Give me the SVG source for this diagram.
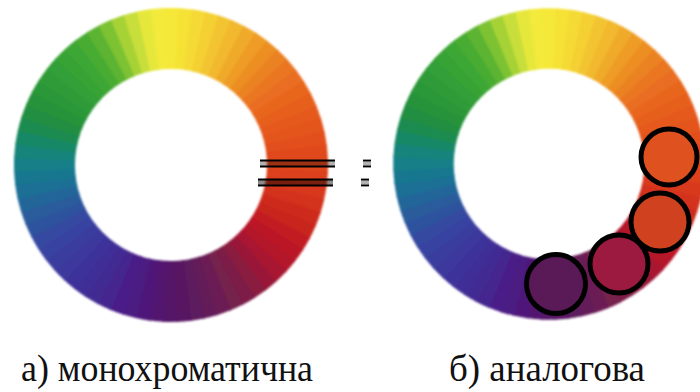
<svg xmlns="http://www.w3.org/2000/svg" xmlns:xlink="http://www.w3.org/1999/xlink" width="700" height="392" viewBox="0 0 700 392">
<style>
.seg{fill:none;stroke-width:61;stroke-dasharray:5.8 354.2}
.lbl{font-family:"Liberation Serif","Times New Roman",serif;font-size:37px;fill:#111}
.pick{stroke:#000;stroke-width:5}
.bar{fill:#000;fill-opacity:0.3}
.ln{stroke:#000;stroke-width:1.8}
</style>
<defs>
<filter id="soft" filterUnits="userSpaceOnUse" x="0" y="0" width="700" height="392"><feGaussianBlur stdDeviation="1.1"/></filter>
<g id="wheel">
<circle class="seg" r="126.5" pathLength="360" stroke="#e0461f" stroke-dashoffset="2.5"/>
<circle class="seg" r="126.5" pathLength="360" stroke="#dc3f1f" stroke-dashoffset="-2.5"/>
<circle class="seg" r="126.5" pathLength="360" stroke="#d8391f" stroke-dashoffset="-7.5"/>
<circle class="seg" r="126.5" pathLength="360" stroke="#d3321f" stroke-dashoffset="-12.5"/>
<circle class="seg" r="126.5" pathLength="360" stroke="#ce2c1f" stroke-dashoffset="-17.5"/>
<circle class="seg" r="126.5" pathLength="360" stroke="#c8261f" stroke-dashoffset="-22.5"/>
<circle class="seg" r="126.5" pathLength="360" stroke="#c21e22" stroke-dashoffset="-27.5"/>
<circle class="seg" r="126.5" pathLength="360" stroke="#bb1926" stroke-dashoffset="-32.5"/>
<circle class="seg" r="126.5" pathLength="360" stroke="#b4152a" stroke-dashoffset="-37.5"/>
<circle class="seg" r="126.5" pathLength="360" stroke="#a81530" stroke-dashoffset="-42.5"/>
<circle class="seg" r="126.5" pathLength="360" stroke="#9a1838" stroke-dashoffset="-47.5"/>
<circle class="seg" r="126.5" pathLength="360" stroke="#8a1c40" stroke-dashoffset="-52.5"/>
<circle class="seg" r="126.5" pathLength="360" stroke="#7c1f47" stroke-dashoffset="-57.5"/>
<circle class="seg" r="126.5" pathLength="360" stroke="#74204e" stroke-dashoffset="-62.5"/>
<circle class="seg" r="126.5" pathLength="360" stroke="#6c1e54" stroke-dashoffset="-67.5"/>
<circle class="seg" r="126.5" pathLength="360" stroke="#641c59" stroke-dashoffset="-72.5"/>
<circle class="seg" r="126.5" pathLength="360" stroke="#5c1a5d" stroke-dashoffset="-77.5"/>
<circle class="seg" r="126.5" pathLength="360" stroke="#581762" stroke-dashoffset="-82.5"/>
<circle class="seg" r="126.5" pathLength="360" stroke="#551567" stroke-dashoffset="-87.5"/>
<circle class="seg" r="126.5" pathLength="360" stroke="#521770" stroke-dashoffset="-92.5"/>
<circle class="seg" r="126.5" pathLength="360" stroke="#4f1979" stroke-dashoffset="-97.5"/>
<circle class="seg" r="126.5" pathLength="360" stroke="#4c1c81" stroke-dashoffset="-102.5"/>
<circle class="seg" r="126.5" pathLength="360" stroke="#481f88" stroke-dashoffset="-107.5"/>
<circle class="seg" r="126.5" pathLength="360" stroke="#45258e" stroke-dashoffset="-112.5"/>
<circle class="seg" r="126.5" pathLength="360" stroke="#422a93" stroke-dashoffset="-117.5"/>
<circle class="seg" r="126.5" pathLength="360" stroke="#402f97" stroke-dashoffset="-122.5"/>
<circle class="seg" r="126.5" pathLength="360" stroke="#3e339a" stroke-dashoffset="-127.5"/>
<circle class="seg" r="126.5" pathLength="360" stroke="#3c389c" stroke-dashoffset="-132.5"/>
<circle class="seg" r="126.5" pathLength="360" stroke="#3a3e9e" stroke-dashoffset="-137.5"/>
<circle class="seg" r="126.5" pathLength="360" stroke="#3943a0" stroke-dashoffset="-142.5"/>
<circle class="seg" r="126.5" pathLength="360" stroke="#3548a0" stroke-dashoffset="-147.5"/>
<circle class="seg" r="126.5" pathLength="360" stroke="#2f529e" stroke-dashoffset="-152.5"/>
<circle class="seg" r="126.5" pathLength="360" stroke="#295c9c" stroke-dashoffset="-157.5"/>
<circle class="seg" r="126.5" pathLength="360" stroke="#226699" stroke-dashoffset="-162.5"/>
<circle class="seg" r="126.5" pathLength="360" stroke="#1a6f95" stroke-dashoffset="-167.5"/>
<circle class="seg" r="126.5" pathLength="360" stroke="#17778f" stroke-dashoffset="-172.5"/>
<circle class="seg" r="126.5" pathLength="360" stroke="#147f88" stroke-dashoffset="-177.5"/>
<circle class="seg" r="126.5" pathLength="360" stroke="#16847a" stroke-dashoffset="-182.5"/>
<circle class="seg" r="126.5" pathLength="360" stroke="#198866" stroke-dashoffset="-187.5"/>
<circle class="seg" r="126.5" pathLength="360" stroke="#1e8b50" stroke-dashoffset="-192.5"/>
<circle class="seg" r="126.5" pathLength="360" stroke="#228e42" stroke-dashoffset="-197.5"/>
<circle class="seg" r="126.5" pathLength="360" stroke="#27933b" stroke-dashoffset="-202.5"/>
<circle class="seg" r="126.5" pathLength="360" stroke="#2b9739" stroke-dashoffset="-207.5"/>
<circle class="seg" r="126.5" pathLength="360" stroke="#2e9b38" stroke-dashoffset="-212.5"/>
<circle class="seg" r="126.5" pathLength="360" stroke="#319f37" stroke-dashoffset="-217.5"/>
<circle class="seg" r="126.5" pathLength="360" stroke="#37a336" stroke-dashoffset="-222.5"/>
<circle class="seg" r="126.5" pathLength="360" stroke="#3ea735" stroke-dashoffset="-227.5"/>
<circle class="seg" r="126.5" pathLength="360" stroke="#4aac33" stroke-dashoffset="-232.5"/>
<circle class="seg" r="126.5" pathLength="360" stroke="#5cb431" stroke-dashoffset="-237.5"/>
<circle class="seg" r="126.5" pathLength="360" stroke="#7cc233" stroke-dashoffset="-242.5"/>
<circle class="seg" r="126.5" pathLength="360" stroke="#a6d236" stroke-dashoffset="-247.5"/>
<circle class="seg" r="126.5" pathLength="360" stroke="#c8de3a" stroke-dashoffset="-252.5"/>
<circle class="seg" r="126.5" pathLength="360" stroke="#e6e73a" stroke-dashoffset="-257.5"/>
<circle class="seg" r="126.5" pathLength="360" stroke="#f3ea3a" stroke-dashoffset="-262.5"/>
<circle class="seg" r="126.5" pathLength="360" stroke="#f6e838" stroke-dashoffset="-267.5"/>
<circle class="seg" r="126.5" pathLength="360" stroke="#f6e236" stroke-dashoffset="-272.5"/>
<circle class="seg" r="126.5" pathLength="360" stroke="#f5da34" stroke-dashoffset="-277.5"/>
<circle class="seg" r="126.5" pathLength="360" stroke="#f4d032" stroke-dashoffset="-282.5"/>
<circle class="seg" r="126.5" pathLength="360" stroke="#f3c430" stroke-dashoffset="-287.5"/>
<circle class="seg" r="126.5" pathLength="360" stroke="#f2b82d" stroke-dashoffset="-292.5"/>
<circle class="seg" r="126.5" pathLength="360" stroke="#f0aa2a" stroke-dashoffset="-297.5"/>
<circle class="seg" r="126.5" pathLength="360" stroke="#ee9c27" stroke-dashoffset="-302.5"/>
<circle class="seg" r="126.5" pathLength="360" stroke="#ec8e24" stroke-dashoffset="-307.5"/>
<circle class="seg" r="126.5" pathLength="360" stroke="#eb8222" stroke-dashoffset="-312.5"/>
<circle class="seg" r="126.5" pathLength="360" stroke="#ea7621" stroke-dashoffset="-317.5"/>
<circle class="seg" r="126.5" pathLength="360" stroke="#e96d20" stroke-dashoffset="-322.5"/>
<circle class="seg" r="126.5" pathLength="360" stroke="#e8661f" stroke-dashoffset="-327.5"/>
<circle class="seg" r="126.5" pathLength="360" stroke="#e6601f" stroke-dashoffset="-332.5"/>
<circle class="seg" r="126.5" pathLength="360" stroke="#e55a1f" stroke-dashoffset="-337.5"/>
<circle class="seg" r="126.5" pathLength="360" stroke="#e4541f" stroke-dashoffset="-342.5"/>
<circle class="seg" r="126.5" pathLength="360" stroke="#e24f1f" stroke-dashoffset="-347.5"/>
<circle class="seg" r="126.5" pathLength="360" stroke="#e04a1f" stroke-dashoffset="-352.5"/>
</g>
</defs>
<rect width="700" height="392" fill="#fff"/>
<g id="wheel-mono">
<g filter="url(#soft)"><use href="#wheel" xlink:href="#wheel" transform="translate(171,165)"/></g>
<g id="mono-marks">
<rect class="bar" x="260" y="160.5" width="75" height="6"/>
<line class="ln" x1="260" y1="160.5" x2="335" y2="160.5"/>
<line class="ln" x1="260" y1="166.5" x2="335" y2="166.5"/>
<rect class="bar" x="258" y="179.5" width="75" height="6" style="fill-opacity:0.45"/>
<line class="ln" x1="258" y1="179.5" x2="333" y2="179.5"/>
<line class="ln" x1="258" y1="185.5" x2="333" y2="185.5"/>
<rect class="bar" x="363" y="160.5" width="8" height="6"/>
<line class="ln" x1="363" y1="160.5" x2="371" y2="160.5"/>
<line class="ln" x1="363" y1="166.5" x2="371" y2="166.5"/>
<rect class="bar" x="361" y="179.5" width="8" height="6"/>
<line class="ln" x1="361" y1="179.5" x2="369" y2="179.5"/>
<line class="ln" x1="361" y1="185.5" x2="369" y2="185.5"/>
</g>
</g>
<g id="wheel-analog">
<g filter="url(#soft)"><use href="#wheel" xlink:href="#wheel" transform="translate(549,164) scale(0.992)"/></g>
<g id="analog-picks">
<circle class="pick" cx="669" cy="157" r="28" fill="#df521f"/>
<circle class="pick" cx="660" cy="222" r="29" fill="#d0421f"/>
<circle class="pick" cx="619" cy="264" r="29" fill="#9c1a40"/>
<circle class="pick" cx="556" cy="284" r="29.5" fill="#5a1a58"/>
</g>
</g>
<g id="labels">
<text class="lbl" x="21" y="381" textLength="292" lengthAdjust="spacingAndGlyphs">а) монохроматична</text>
<text class="lbl" x="449" y="381" textLength="196" lengthAdjust="spacingAndGlyphs">б) аналогова</text>
</g>
</svg>
